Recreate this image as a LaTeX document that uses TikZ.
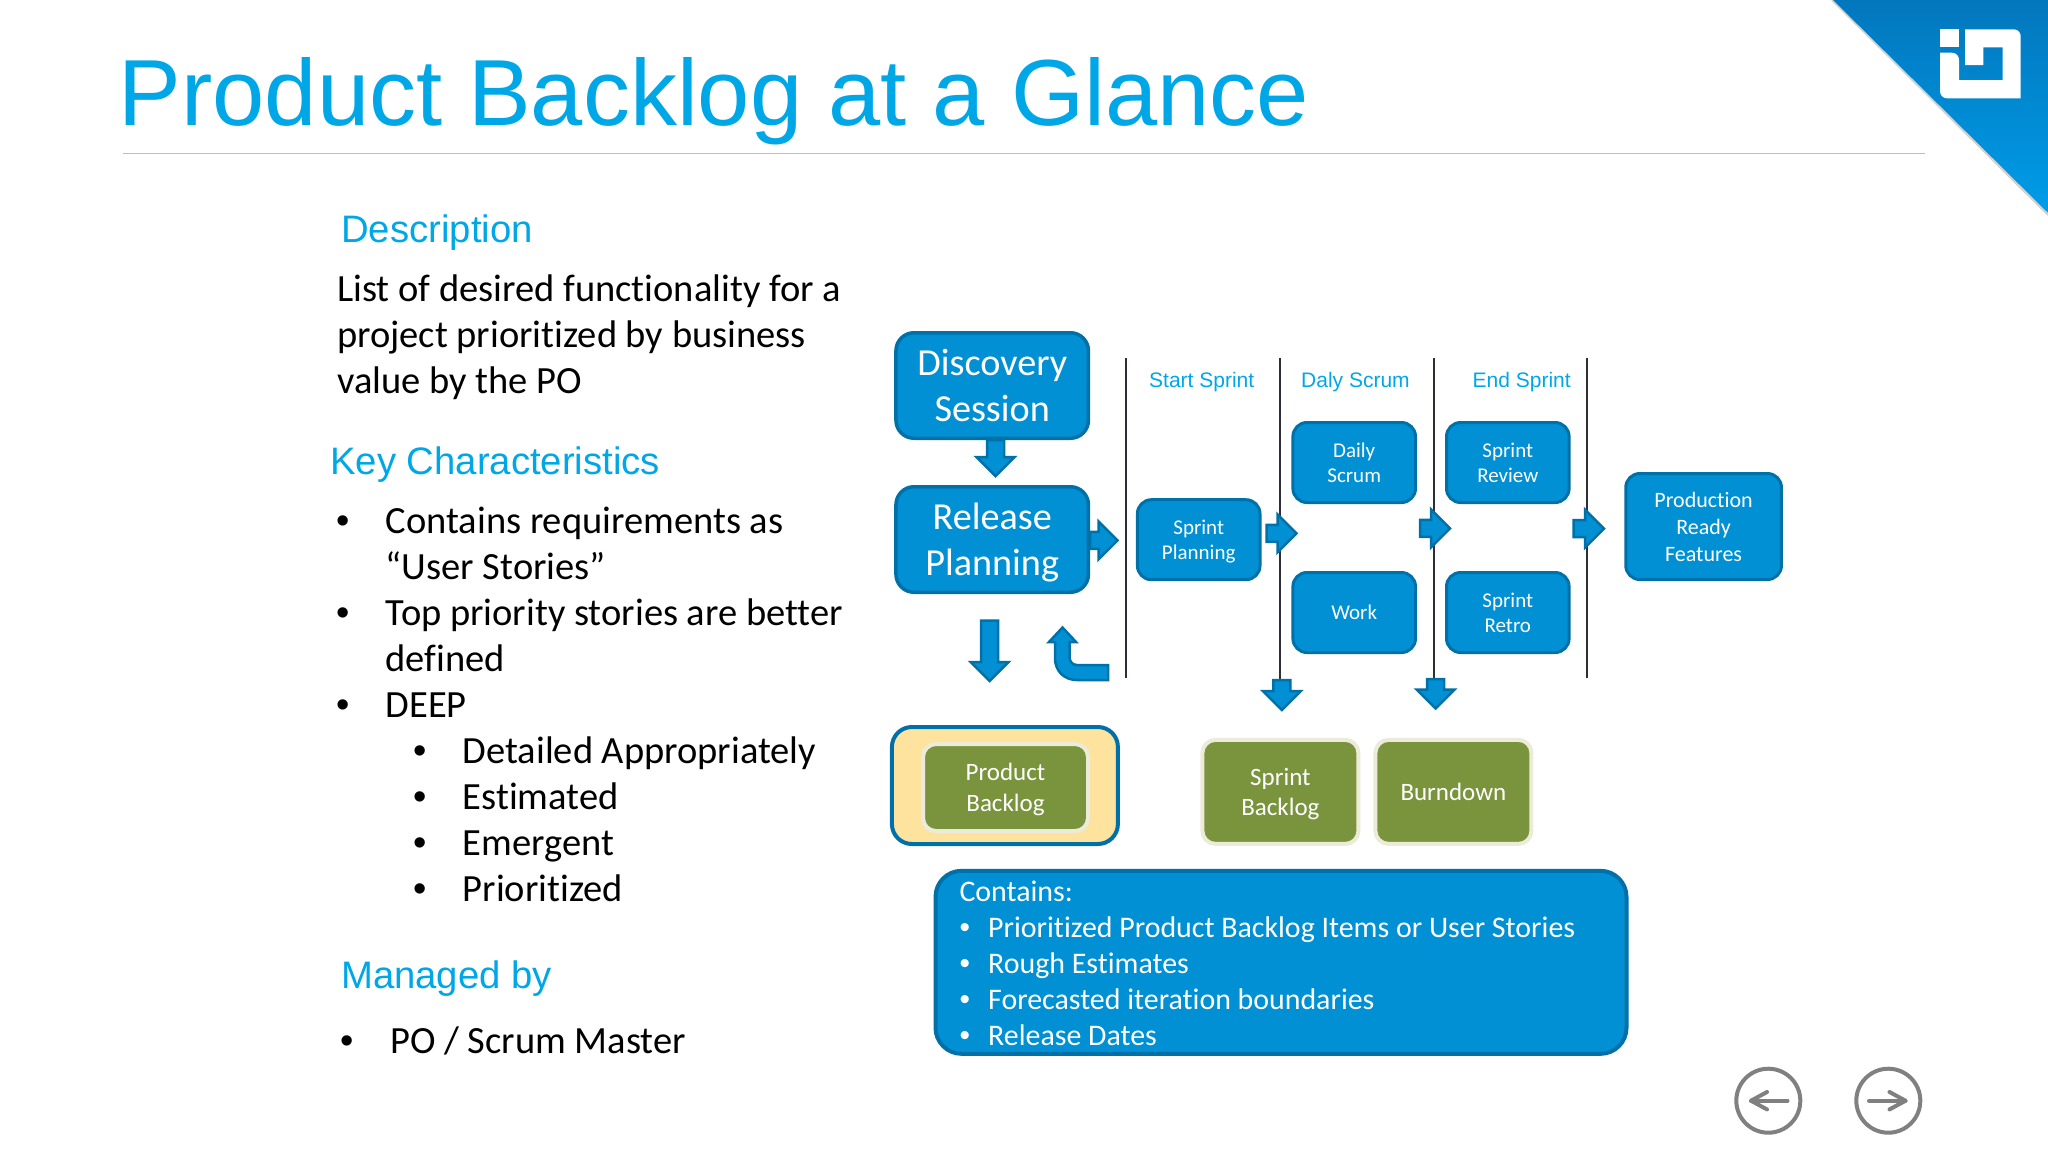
\documentclass[tikz,border=0pt]{standalone}
\usepackage{fontspec}
\setmainfont[Ligatures=CommonOff]{Carlito}
\newfontfamily\headfont{Liberation Sans}
\usepackage{xcolor}
\usetikzlibrary{positioning, calc}

\definecolor{titleblue}{HTML}{00A7E7}
\definecolor{boxblue}{HTML}{0090D3}
\definecolor{edgeblue}{HTML}{0070A8}
\definecolor{cornertop}{HTML}{0277BD}
\definecolor{cornerbot}{HTML}{009CE8}
\definecolor{backlogyellow}{HTML}{FDE39E}
\definecolor{artifactgreen}{HTML}{7A943D}
\definecolor{artifactedge}{HTML}{ECEBD9}
\definecolor{navgrey}{HTML}{808080}
\definecolor{ruledark}{HTML}{2E2E38}

\begin{document}
\begin{tikzpicture}[
    x=1pt, y=-1pt,
    every node/.style={inner sep=0pt},
    heading/.style={anchor=base west, text=titleblue, font=\headfont\fontsize{38.3}{46}\selectfont},
    body/.style={anchor=base west, font=\fontsize{38.5}{46}\selectfont},
    dot/.style={anchor=base, font=\headfont\fontsize{38}{46}\selectfont},
    phase/.style={anchor=base west, text=titleblue, font=\headfont\fontsize{21}{25}\selectfont},
    bigbox/.style={draw=edgeblue, fill=boxblue, line width=3.5pt, rounded corners=18pt, text=white, align=center, text depth=0pt,
      minimum width=192.5pt, minimum height=105.5pt, font=\fontsize{38.2}{46}\selectfont},
    smallbox/.style={draw=edgeblue, fill=boxblue, line width=3pt, rounded corners=14pt, text=white, align=center, text depth=0pt,
      minimum width=122.6pt, minimum height=80pt, font=\fontsize{21}{25.4}\selectfont},
    artifact/.style={draw=artifactedge, fill=artifactgreen, line width=4pt, rounded corners=13pt, text=white, align=center, text depth=0pt,
      minimum width=156pt, minimum height=104pt, font=\fontsize{25}{30.5}\selectfont},
    blockarrow/.style={draw=edgeblue, fill=boxblue, line width=2.5pt, line join=miter,
      to path={
        ($(\tikztostart)!8.5pt!90:(\tikztotarget)$)
        -- ($(\tikztotarget)!19pt!(\tikztostart)!8.5pt!-90:(\tikztostart)$)
        -- ($(\tikztotarget)!19pt!(\tikztostart)!19pt!-90:(\tikztostart)$)
        -- (\tikztotarget)
        -- ($(\tikztotarget)!19pt!(\tikztostart)!19pt!90:(\tikztostart)$)
        -- ($(\tikztotarget)!19pt!(\tikztostart)!8.5pt!90:(\tikztostart)$)
        -- ($(\tikztostart)!8.5pt!-90:(\tikztotarget)$)
        -- cycle}},
    navcircle/.style={circle, draw=navgrey, line width=4pt, minimum size=64pt},
    navarrow/.style={draw=navgrey, line width=4pt, line cap=round, line join=round}
  ]
  \useasboundingbox (0,0) rectangle (2048,1152);

  % Corner triangle and logo
  \draw[black!18, line width=2pt] (1832,0) -- (2048,215);
  \shade[top color=cornertop, bottom color=cornerbot] (1833,0) -- (2048,0) -- (2048,213) -- cycle;
  \fill[white] (1940,29.3) rectangle (1959,47.3);
  \fill[white, rounded corners=7pt] (1940,52.7) -- (1959,52.7) [sharp corners] -- (1959,80) -- (2002.7,80) -- (2002.7,47.3)
    -- (1983.3,47.3) -- (1983.3,65) -- (1965,65) -- (1965,29.3) [rounded corners=7pt] -- (2020.7,29.3) [sharp corners] -- (2020.7,98.3)
    [rounded corners=7pt] -- (1940,98.3) [sharp corners] -- cycle;

  % Title
  \node[anchor=base west, text=titleblue, font=\headfont\fontsize{93.9}{110}\selectfont] (title) at (118.5,125) {Product Backlog at a Glance};
  \coordinate (ruleleft) at (123,153.5);
  \coordinate (ruleright) at (1925,153.5);
  \draw[black!25, line width=1.5pt] (ruleleft) -- (ruleright);

  % Left column
  \node[heading] (desc) at (341,242) {Description};
  \node[body] (desc1) at (337,301.3) {List of desired functionality for a};
  \node[body] (desc2) at (337,347.3) {project prioritized by business};
  \node[body] (desc3) at (337,393.3) {value by the PO};

  \node[heading] (keys) at (330,474.5) {Key Characteristics};
  \node[dot] (b1) at (343.4,533) {•};
  \node[body] (key1) at (385.5,533) {Contains requirements as};
  \node[body] (key1b) at (385.5,579) {“User Stories”};
  \node[dot] (b2) at (343.4,625) {•};
  \node[body] (key2) at (385.5,625) {Top priority stories are better};
  \node[body] (key2b) at (385.5,671) {defined};
  \node[dot] (b3) at (343.4,717) {•};
  \node[body] (key3) at (385.5,717) {DEEP};

  \node[dot] (b4) at (420,763) {•};
  \node[body] (sub1) at (462.5,763) {Detailed Appropriately};
  \node[dot] (b5) at (420,809) {•};
  \node[body] (sub2) at (462.5,809) {Estimated};
  \node[dot] (b6) at (420,855) {•};
  \node[body] (sub3) at (462.5,855) {Emergent};
  \node[dot] (b7) at (420,901) {•};
  \node[body] (sub4) at (462.5,901) {Prioritized};

  \node[heading] (managed) at (341,988.5) {Managed by};
  \node[dot] (b8) at (347.6,1053.5) {•};
  \node[body] (owner) at (390,1053.5) {PO / Scrum Master};

  % Phase separators
  \coordinate (sep1top) at (1126,358);
  \coordinate (sep1bot) at (1126,678);
  \coordinate (sep2top) at (1280,358);
  \coordinate (sep2bot) at (1280,680);
  \coordinate (sep3top) at (1433.6,358);
  \coordinate (sep3bot) at (1433.6,680);
  \coordinate (sep4top) at (1587,358);
  \coordinate (sep4bot) at (1587,678);
  \draw[ruledark, line width=1.8pt] (sep1top) -- (sep1bot);
  \draw[ruledark, line width=1.8pt] (sep2top) -- (sep2bot);
  \draw[ruledark, line width=1.8pt] (sep3top) -- (sep3bot);
  \draw[ruledark, line width=1.8pt] (sep4top) -- (sep4bot);

  \node[phase] (start) at (1149,387) {Start Sprint};
  \node[phase] (daly) at (1301,387) {Daly Scrum};
  \node[phase] (end) at (1472.5,387) {End Sprint};

  % Process boxes
  \node[bigbox] (discovery) at (992.2,385.5) {Discovery\\Session};
  \node[bigbox, below=45pt of discovery] (release) {Release\\Planning};
  \node[smallbox] (planning) at (1198.7,539.7) {Sprint\\Planning};
  \node[smallbox] (daily) at (1354.2,462.5) {Daily\\Scrum};
  \node[smallbox, below=67pt of daily] (work) {Work};
  \node[smallbox, right=28pt of daily] (review) {Sprint\\Review};
  \node[smallbox, below=67pt of review] (retro) {Sprint\\Retro};
  \node[smallbox, minimum width=155.7pt, minimum height=106pt, font=\fontsize{22}{27}\selectfont] (ready) at (1703.6,526.5) {Production\\Ready\\Features};

  % Artifacts
  \node[draw=edgeblue, fill=backlogyellow, line width=4pt, rounded corners=20pt, minimum width=226pt, minimum height=117pt] (highlight) at (1004.9,785.5) {};
  \node[artifact, minimum width=165pt, minimum height=87pt] (pbacklog) at (1005.5,787.5) {Product\\Backlog};
  \node[artifact] (sbacklog) at (1280.4,791.9) {Sprint\\Backlog};
  \node[artifact, right=13pt of sbacklog] (burndown) {Burndown};

  % Contents box
  \node[draw=edgeblue, fill=boxblue, line width=4pt, rounded corners=26pt, minimum width=691pt, minimum height=183pt,
    text=white, align=flush left, text width=643pt, font=\fontsize{29.9}{36}\selectfont] (contents) at (1281,962.3) {%
    \rule{0pt}{23pt}Contains:\\
    \makebox[28.7pt][l]{\headfont •}Prioritized Product Backlog Items or User Stories\\
    \makebox[28.7pt][l]{\headfont •}Rough Estimates\\
    \makebox[28.7pt][l]{\headfont •}Forecasted iteration boundaries\\
    \makebox[28.7pt][l]{\headfont •}Release Dates};

  % Block arrows
  \coordinate (a1s) at (995.5,440);
  \coordinate (a1e) at (995.5,476);
  \coordinate (a2s) at (1090,540.3);
  \coordinate (a2e) at (1117.5,540.3);
  \coordinate (a3s) at (989.7,620.5);
  \coordinate (a3e) at (989.7,681);
  \coordinate (a5s) at (1266.5,533.3);
  \coordinate (a5e) at (1296.5,533.3);
  \coordinate (a6s) at (1420,528.3);
  \coordinate (a6e) at (1450,528.3);
  \coordinate (a7s) at (1573.5,528.7);
  \coordinate (a7e) at (1604,528.7);
  \coordinate (a8s) at (1281.8,680);
  \coordinate (a8e) at (1281.8,710);
  \coordinate (a9s) at (1435.7,679);
  \coordinate (a9e) at (1435.7,708.5);
  \draw[blockarrow] (a1s) to (a1e);
  \draw[blockarrow] (a2s) to (a2e);
  \draw[blockarrow] (a3s) to (a3e);
  \draw[blockarrow] (a5s) to (a5e);
  \draw[blockarrow] (a6s) to (a6e);
  \draw[blockarrow] (a7s) to (a7e);
  \draw[blockarrow] (a8s) to (a8e);
  \draw[blockarrow] (a9s) to (a9e);

  % Bent arrow back into the release box
  \draw[draw=edgeblue, fill=boxblue, line width=2.5pt, line join=miter]
    (1108,665) -- (1077,665) .. controls (1072,665) and (1069.5,661) .. (1069.5,657) -- (1069.5,642) -- (1076,642) -- (1062.5,627.5)
    -- (1049,642) -- (1055,642) -- (1055,658) .. controls (1055,671) and (1064,680) .. (1077,680) -- (1108,680) -- cycle;

  % Navigation buttons
  \node[navcircle] (navback) at (1768.3,1100.7) {};
  \node[navcircle] (navnext) at (1888.3,1100.7) {};
  \coordinate (backfrom) at (1787.5,1100.7);
  \coordinate (backto) at (1751,1100.7);
  \coordinate (nextfrom) at (1869,1100.7);
  \coordinate (nextto) at (1905.5,1100.7);
  \draw[navarrow] (backfrom) -- (backto);
  \draw[navarrow] (1767,1092) -- (backto) -- (1767,1109.4);
  \draw[navarrow] (nextfrom) -- (nextto);
  \draw[navarrow] (1889.5,1092) -- (nextto) -- (1889.5,1109.4);
\end{tikzpicture}
\end{document}
